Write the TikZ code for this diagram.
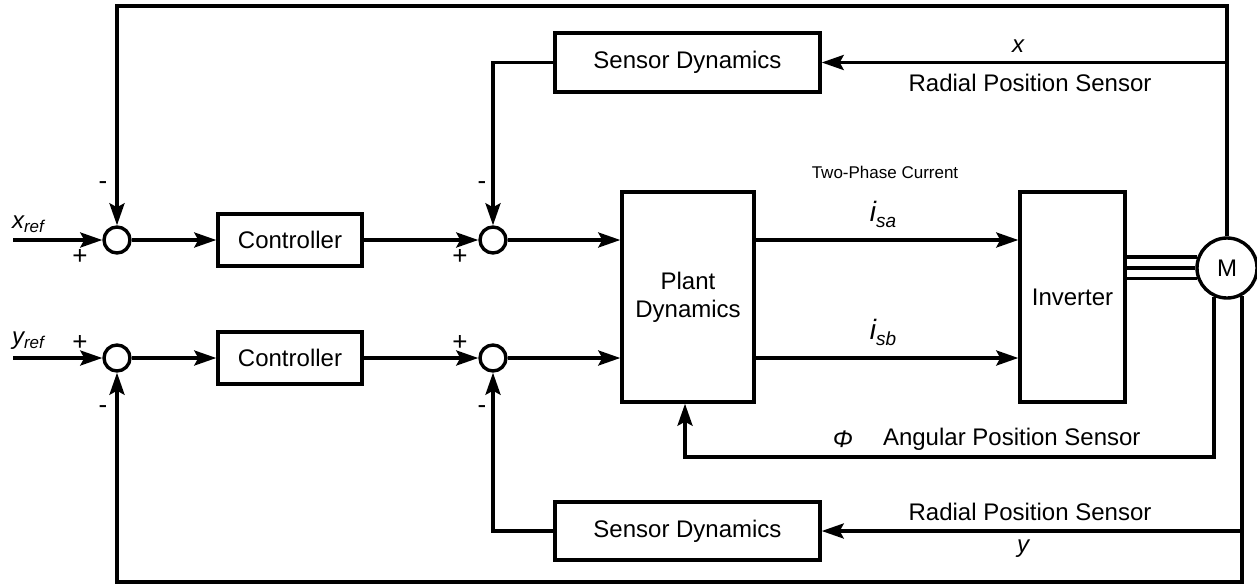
\documentclass[tikz,border=0pt]{standalone}
\usepackage{fontspec}
\setmainfont{Liberation Sans}
\usetikzlibrary{arrows.meta}
\begin{document}
\begin{tikzpicture}[x=1pt,y=-1pt,
  line width=3.4pt,
  arr/.style={-{Stealth[length=22pt,width=15pt,inset=4pt]}},
  blk/.style={draw, rectangle, inner sep=0pt, font=\fontsize{24}{28}\selectfont, align=center},
  sumc/.style={draw, circle, minimum size=26pt, inner sep=0pt},
  lbl/.style={font=\fontsize{24}{28}\selectfont},
  sgn/.style={font=\fontsize{26}{26}\selectfont, inner sep=0pt},
]
\useasboundingbox (0,0) rectangle (1257,586);

% summing junctions
\node[sumc] (sx1) at (117,240) {};
\node[sumc] (sx2) at (493,240) {};
\node[sumc] (sy1) at (117,358) {};
\node[sumc] (sy2) at (493,358) {};

% blocks
\node[blk, minimum width=144pt, minimum height=52pt] (cx) at (290,240) {Controller};
\node[blk, minimum width=144pt, minimum height=52pt] (cy) at (290,358) {Controller};
\node[blk, minimum width=265pt, minimum height=59pt] (sdx) at (687.5,62.5) {Sensor Dynamics};
\node[blk, minimum width=265pt, minimum height=58pt] (sdy) at (687.5,531) {Sensor Dynamics};
\node[blk, minimum width=132pt, minimum height=210pt] (plant) at (688,297) {Plant\\Dynamics};
\node[blk, minimum width=105pt, minimum height=210pt] (inv) at (1072.5,297) {Inverter};
\node[blk, circle, minimum size=60pt] (M) at (1227,268) {M};

% inputs
\coordinate (xin) at (13,240);
\coordinate (yin) at (13,358);
\node (xref) at (28,224) {\fontsize{24}{26}\selectfont\itshape x\raisebox{-4pt}{\fontsize{17}{18}\selectfont ref}};
\node (yref) at (28,341) {\fontsize{24}{26}\selectfont\itshape y\raisebox{-4pt}{\fontsize{17}{18}\selectfont ref}};
\draw[arr] (xin) -- (sx1.west);
\draw[arr] (yin) -- (sy1.west);

% forward path
\draw[arr] (sx1.east) -- (cx.west);
\draw[arr] (sy1.east) -- (cy.west);
\draw[arr] (cx.east) -- (sx2.west);
\draw[arr] (cy.east) -- (sy2.west);
\draw[arr] (sx2.east) -- (sx2.east -| plant.west);
\draw[arr] (sy2.east) -- (sy2.east -| plant.west);
\draw[arr] (sx2.east -| plant.east) -- (sx2.east -| inv.west);
\draw[arr] (sy2.east -| plant.east) -- (sy2.east -| inv.west);

% inverter to motor (three phases)
\draw (M.160.5) -- (M.160.5 -| inv.east);
\draw (M.180) -- (M.180 -| inv.east);
\draw (M.199.5) -- (M.199.5 -| inv.east);

% outer x feedback
\coordinate (tl) at (117,6);
\draw[arr] (M.north) |- (tl) -- (sx1.north);
% x sensor
\draw[arr] (M.north |- sdx.east) -- (sdx.east);
\draw[arr] (sdx.west) -| (sx2.north);

% angular position
\coordinate (ang) at (685,457);
\draw[arr] (M.246) |- (ang) -- (ang |- plant.south);

% outer y feedback
\coordinate (bl) at (117,582);
\draw[arr] (M.298) |- (bl) -- (sy1.south);
% y sensor
\draw[arr] (M.298 |- sdy.east) -- (sdy.east);
\draw[arr] (sdy.west) -| (sy2.south);

% signs
\node[sgn] (s1) at (103,186) {-};
\node[sgn] (s2) at (80,257) {+};
\node[sgn] (s3) at (80,343) {+};
\node[sgn] (s4) at (103,410) {-};
\node[sgn] (s5) at (482,186) {-};
\node[sgn] (s6) at (460,257) {+};
\node[sgn] (s7) at (460,343) {+};
\node[sgn] (s8) at (482,410) {-};

% labels
\node[lbl] (xlab) at (1018,46) {\itshape x};
\node[lbl] (rpx) at (1030,83) {Radial Position Sensor};
\node[lbl] (rpy) at (1030,512) {Radial Position Sensor};
\node[lbl] (ylab) at (1023,549) {\itshape y};
\node[lbl] (phi) at (843,439) {\itshape Φ};
\node[lbl, anchor=west] (angl) at (878,439) {Angular Position Sensor};
\node[font=\fontsize{17}{20}\selectfont] (tpc) at (885,172) {Two-Phase Current};
\node (isa) at (883,214) {\fontsize{28}{30}\selectfont\itshape i\raisebox{-6pt}{\fontsize{19}{20}\selectfont sa}};
\node (isb) at (883,332) {\fontsize{28}{30}\selectfont\itshape i\raisebox{-6pt}{\fontsize{19}{20}\selectfont sb}};
\end{tikzpicture}
\end{document}
